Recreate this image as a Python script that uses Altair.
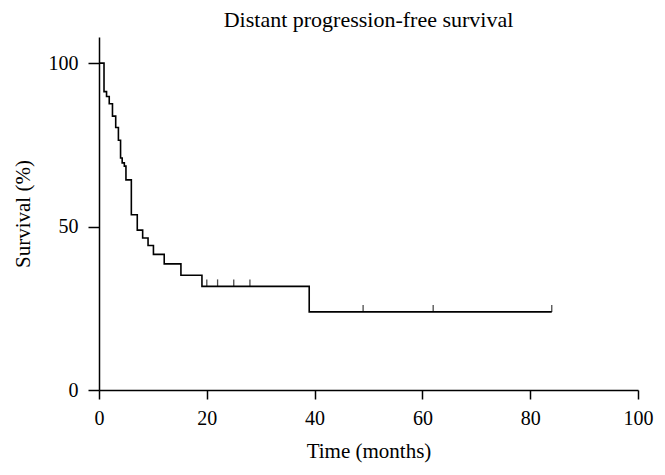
import altair as alt
import pandas as pd

# Kaplan-Meier step curve (time in months, survival %)
times = [0, 0.93, 1.4, 1.9, 2.5, 3.1, 3.6, 4.0, 4.3, 4.7, 5.0, 6.0, 7.1, 8.1, 9.1,
         10.1, 12.1, 15.2, 19.1, 39.0, 84.0]
surv = [100, 91.3, 89.8, 87.6, 83.8, 80.3, 76.4, 71.0, 69.5, 68.5, 64.3, 53.6, 48.9,
        46.5, 44.2, 41.5, 38.6, 35.1, 31.7, 23.9, 23.9]

# censored observations
censor_times = [20, 22, 25, 28, 49, 62, 84]
censor_surv = [31.7, 31.7, 31.7, 31.7, 23.9, 23.9, 23.9]

x_ticks = [0, 20, 40, 60, 80, 100]
y_ticks = [0, 50, 100]

curve = pd.DataFrame({"t": times, "s": surv})
cens = pd.DataFrame({"t": censor_times, "s": censor_surv})

FONT = "Liberation Serif"

x_enc = alt.X("t:Q", scale=alt.Scale(domain=[0, 100], nice=False),
              axis=alt.Axis(title="Time (months)", values=x_ticks, tickSize=9,
                            labelPadding=9, titlePadding=12, labelFlush=False))
y_enc = alt.Y("s:Q", scale=alt.Scale(domain=[0, 108], nice=False),
              axis=alt.Axis(title="Survival (%)", values=y_ticks, tickSize=11,
                            labelPadding=10, titlePadding=15, labelFlush=False))

line = alt.Chart(curve).mark_line(interpolate="step-after", color="black",
                                  strokeWidth=1.6).encode(x=x_enc, y=y_enc)

ticks = alt.Chart(cens).mark_tick(orient="vertical", color="black", size=7,
                                  thickness=1.3, yOffset=-3.5).encode(x="t:Q", y="s:Q")

chart = (line + ticks).properties(
    width=539, height=353,
    title=alt.TitleParams("Distant progression-free survival", font=FONT, fontSize=22,
                          fontWeight="normal", color="black", anchor="middle", offset=5),
    autosize=alt.AutoSizeParams(type="none"),
    padding={"left": 91, "top": 29, "right": 19, "bottom": 77},
).configure_view(stroke=None).configure_axis(
    grid=False, domainColor="black", domainWidth=1.5, tickColor="black", tickWidth=1.5,
    labelFont=FONT, labelFontSize=20, labelColor="black",
    titleFont=FONT, titleFontSize=21, titleFontWeight="normal", titleColor="black",
)

chart.save("out.html", embed_options={"renderer": "svg", "actions": False})
